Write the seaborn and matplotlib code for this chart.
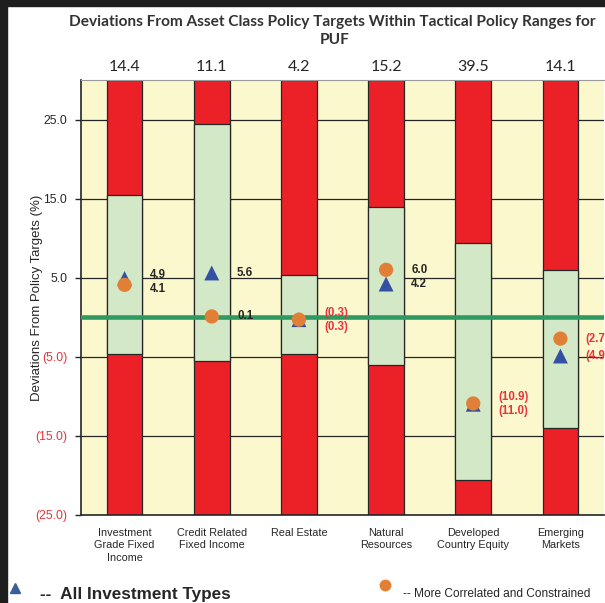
import matplotlib
matplotlib.use("Agg")
import matplotlib.pyplot as plt
import seaborn as sns
import pandas as pd
from matplotlib.patches import Rectangle

# data
categories = ["Investment\nGrade Fixed\nIncome", "Credit Related\nFixed Income", "Real Estate",
              "Natural\nResources", "Developed\nCountry Equity", "Emerging\nMarkets"]
allocations = [14.4, 11.1, 4.2, 15.2, 39.5, 14.1]
range_upper = [15.4, 24.5, 5.4, 14.0, 9.4, 6.0]
range_lower = [-4.6, -5.5, -4.6, -6.0, -20.6, -14.0]
all_types = [4.9, 5.6, -0.3, 4.2, -11.0, -4.9]
constrained = [4.1, 0.1, -0.3, 6.0, -10.9, -2.7]
y_ticks = [-25, -15, -5, 5, 15, 25]
y_min, y_max = -25, 30

RED = "#EC2027"
GREEN = "#D2E8C6"
YELLOW = "#FCF8CD"
LINE_GREEN = "#2E9A62"
BLUE = "#3350A3"
ORANGE = "#E07F35"
NEG_RED = "#E8333C"
DARK = "#262626"

df = pd.DataFrame({
    "category": categories,
    "top": [y_max] * len(categories),
    "bottom": [y_min] * len(categories),
    "upper": range_upper,
    "lower": range_lower,
    "all_types": all_types,
    "constrained": constrained,
})

sns.set_style("white")
plt.rcParams["font.family"] = ["Liberation Sans", "DejaVu Sans"]

fig = plt.figure(figsize=(6.05, 6.03), dpi=100)
ax = fig.add_axes([81 / 605, 88 / 603, 523 / 605, 435 / 603])
ax.set_facecolor(YELLOW)

# range columns: red outside the tactical range, green inside
for col, color in [("top", RED), ("upper", GREEN), ("bottom", RED), ("lower", GREEN)]:
    sns.barplot(data=df, x="category", y=col, color=color, saturation=1, width=0.41,
                edgecolor=DARK, linewidth=0.9, ax=ax, zorder=2)

ax.axhline(0, color=LINE_GREEN, lw=3.3, zorder=4)

sns.scatterplot(data=df, x="category", y="all_types", marker="^", s=115, color=BLUE,
                edgecolor="none", ax=ax, zorder=5)
sns.scatterplot(data=df, x="category", y="constrained", marker="o", s=105, color=ORANGE,
                edgecolor="none", ax=ax, zorder=6)


def fmt(v):
    return f"{v:.1f}" if v >= 0 else f"({abs(v):.1f})"


for i in range(len(categories)):
    hi, lo = max(all_types[i], constrained[i]), min(all_types[i], constrained[i])
    hi_y, lo_y = hi, lo
    if hi - lo < 1.8:
        mid = (hi + lo) / 2
        hi_y, lo_y = mid + 0.9, mid - 0.9
    for v, yy in [(hi, hi_y), (lo, lo_y)]:
        ax.text(i + 0.29, yy, fmt(v), ha="left", va="center", fontsize=8.3, fontweight="bold",
                color=DARK if v >= 0 else NEG_RED, zorder=7)
    ax.text(i, 31.6, f"{allocations[i]:.1f}", ha="center", va="center", fontsize=11.5,
            family=["Lato", "DejaVu Sans"], color=DARK, clip_on=False)

ax.set_xlim(-0.5, len(categories) - 0.5)
ax.set_ylim(y_min, y_max)
ax.set_yticks(y_ticks)
ax.set_yticklabels([fmt(t) for t in y_ticks], fontsize=8.8)
for lab, t in zip(ax.get_yticklabels(), y_ticks):
    lab.set_color(DARK if t >= 0 else NEG_RED)
ax.tick_params(axis="y", length=4, width=1, color=DARK, pad=6, left=True)
ax.tick_params(axis="x", length=0, pad=9, labelsize=7.8, labelcolor=DARK)
for lab in ax.get_xticklabels():
    lab.set_linespacing(1.35)
ax.set_xlabel("")
ax.set_ylabel("Deviations From Policy Targets (%)", fontsize=9.5, color=DARK)
ax.yaxis.set_label_coords(-0.072, 0.5)

ax.yaxis.grid(True, color=DARK, lw=0.9)
ax.set_axisbelow(True)
for side in ["left", "bottom"]:
    ax.spines[side].set_color(DARK)
    ax.spines[side].set_linewidth(1.2)
ax.spines["top"].set_color("#999999")
ax.spines["top"].set_linewidth(0.8)
ax.spines["right"].set_visible(False)

fig.text(0.549, 0.963, "Deviations From Asset Class Policy Targets Within Tactical Policy Ranges for",
         ha="center", va="center", fontsize=11.1, fontweight="bold", color="#333333",
         family=["Lato", "DejaVu Sans"])
fig.text(0.553, 0.933, "PUF", ha="center", va="center", fontsize=11.1, fontweight="bold",
         color="#333333", family=["Lato", "DejaVu Sans"])

# bottom legend
fig.lines.append(plt.Line2D([15 / 605], [1 - 588 / 603], marker="^", markersize=7, color="#3A5E9C",
                            transform=fig.transFigure))
fig.text(40 / 605, 1 - 594 / 603, "--  All Investment Types", ha="left", va="center",
         fontsize=12.3, fontweight="bold", color=DARK)
fig.lines.append(plt.Line2D([385 / 605], [1 - 585 / 603], marker="o", markersize=7.5, color=ORANGE,
                            transform=fig.transFigure))
fig.text(403 / 605, 1 - 594 / 603, "-- More Correlated and Constrained", ha="left", va="center",
         fontsize=8.6, color=DARK)

# frame
fig.patches.append(Rectangle((0, 0), 7 / 605, 1, transform=fig.transFigure, color="#1E1E1E"))
fig.patches.append(Rectangle((0, 1 - 6 / 603), 1, 6 / 603, transform=fig.transFigure, color="#1E1E1E"))

fig.savefig("out.png", dpi=100, facecolor="white")
